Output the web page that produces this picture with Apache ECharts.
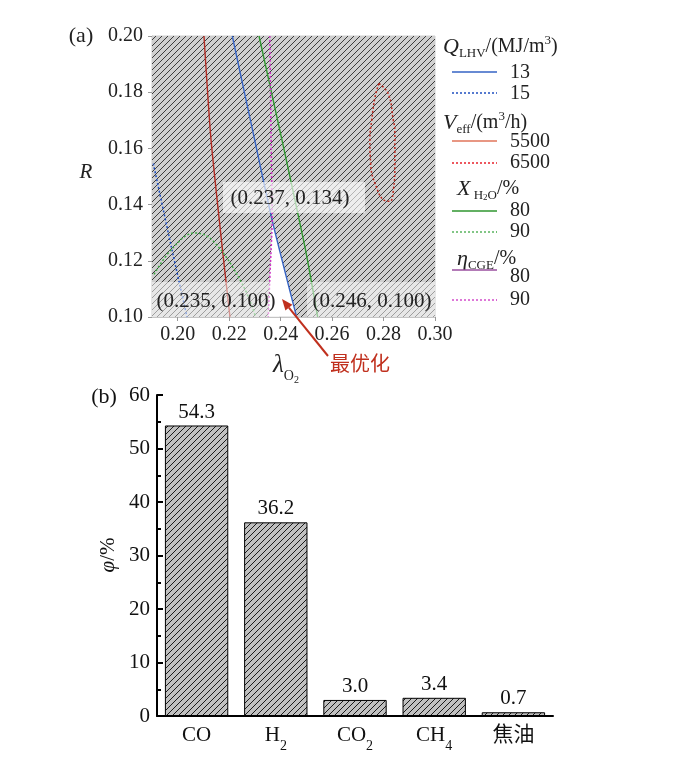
<!DOCTYPE html>
<html><head><meta charset="utf-8">
<script src="https://cdn.jsdelivr.net/npm/echarts@6/dist/echarts.min.js"></script>
<style>html,body{margin:0;padding:0;background:#fff}#c{width:674px;height:759px}</style>
</head><body><div id="c"></div>
<script>
// ---------- Panel (a) data (λO2, R) ----------
const aXTicks = [0.20, 0.22, 0.24, 0.26, 0.28, 0.30];
const qlhv13 = [[0.2212,0.20],[0.2298,0.1635],[0.2368,0.134],[0.2462,0.10]];
const qlhv15 = [[0.1905,0.1546],[0.1975,0.125],[0.2036,0.10]];
const veff5500 = [[0.2102,0.20],[0.2129,0.1635],[0.2173,0.1247],[0.2203,0.10]];
const veff6500 = [[0.2782,0.1831],[0.2818,0.1795],[0.2838,0.1700],[0.2844,0.1664],[0.2844,0.1546],[0.2838,0.1450],[0.2825,0.1412],[0.2806,0.1414],[0.2767,0.1475],[0.2750,0.1545],[0.2747,0.1636],[0.2754,0.1700],[0.2767,0.1783],[0.2782,0.1831]];
const xh2o80 = [[0.2316,0.20],[0.2404,0.1635],[0.2495,0.1247],[0.2544,0.10]];
const xh2o90 = [[0.1908,0.1152],[0.1983,0.1248],[0.2067,0.1299],[0.2137,0.1271],[0.2249,0.1121],[0.2303,0.10]];
const cge90 = [[0.2358,0.20],[0.2362,0.17],[0.2367,0.134],[0.2360,0.118],[0.2352,0.10]];
const optimumTop = [0.237, 0.134];
// ---------- Panel (b) data ----------
const bCats = ['CO', 'H2', 'CO2', 'CH4', '焦油'];
const bVals = [54.3, 36.2, 3.0, 3.4, 0.7];

const SERIF = "'Liberation Serif','Times New Roman',serif";
const SERIF_CJK = "'Liberation Serif','Noto Sans CJK SC',serif";

function hatch(bg, line, size, lw) {
  const c = document.createElement('canvas');
  c.width = size; c.height = size;
  const g = c.getContext('2d');
  g.fillStyle = bg; g.fillRect(0, 0, size, size);
  g.strokeStyle = line; g.lineWidth = lw;
  g.beginPath();
  g.moveTo(0, size); g.lineTo(size, 0);
  g.moveTo(-1, 1); g.lineTo(1, -1);
  g.moveTo(size - 1, size + 1); g.lineTo(size + 1, size - 1);
  g.stroke();
  return { image: c, repeat: 'repeat' };
}
const hatchA = hatch('#cfcfcf', '#3c3c3c', 6, 1);
const hatchB = hatch('#c0c0c0', '#1a1a1a', 6, 1);

// infeasible (hatched) region = plot minus optimum wedge
const wedgeLeft = cge90.filter(p => p[1] <= 0.134).sort((a, b) => a[1] - b[1]);
const wedgeRight = qlhv13.filter(p => p[1] <= 0.134).sort((a, b) => b[1] - a[1]);
const hatchPoly = [[0.19, 0.10]].concat(wedgeLeft, wedgeRight, [[0.30, 0.10], [0.30, 0.20], [0.19, 0.20]]);

const C = {
  blue: '#3563c4', blueD: '#1f4fc0',
  red: '#b02a22', redL: '#e0755a', redD: '#b8281e', redLeg: '#e8202a',
  green: '#2f962f', greenD: '#3fa845',
  purple: '#9a4f9f', magenta: '#cc30c4'
};
function lineSeries(name, data, color, dotted, smooth) {
  return {
    name, type: 'line', xAxisIndex: 0, yAxisIndex: 0, data, symbol: 'none',
    smooth: smooth || 0, z: 3,
    lineStyle: { color, width: dotted ? 1.5 : 1.4, type: dotted ? [2, 2] : 'solid' }
  };
}

const chart = echarts.init(document.getElementById('c'), null, { renderer: 'canvas' });
const lbl = { fontFamily: SERIF, fontSize: 20, color: '#222' };

// legend helpers
const LX1 = 452, LX2 = 497, LT = 510;
const legendEls = [];
function legLine(y, color, dotted) {
  legendEls.push({ type: 'line', shape: { x1: LX1, y1: y, x2: LX2, y2: y }, style: { stroke: color, lineWidth: 1.3, lineDash: dotted ? [2, 2] : null }, z: 100 });
}
function legText(x, y, text, rich) {
  legendEls.push({ type: 'text', x, y, z: 100, style: { text, rich: rich || {}, font: "20px " + SERIF, fill: '#222', textAlign: 'left', textVerticalAlign: 'middle' } });
}
const richHdr = {
  i: { fontFamily: SERIF, fontStyle: 'italic', fontSize: 22, lineHeight: 26, fill: '#222' },
  n: { fontFamily: SERIF, fontSize: 20, lineHeight: 26, fill: '#222' },
  s: { fontFamily: SERIF, fontSize: 13, lineHeight: 4, verticalAlign: 'bottom', fill: '#222' },
  ss: { fontFamily: SERIF, fontSize: 9, lineHeight: 1, verticalAlign: 'bottom', fill: '#222' },
  p: { fontFamily: SERIF, fontSize: 13, lineHeight: 16, verticalAlign: 'top', fill: '#222' }
};
legText(443, 47, '{i|Q}{s|LHV}{n|/(MJ/m}{p|3}{n|)}', richHdr);
legLine(72, C.blue, false); legText(LT, 73, '13');
legLine(93, C.blueD, true); legText(LT, 94, '15');
legText(443, 123, '{i|V}{s|eff}{n|/(m}{p|3}{n|/h)}', richHdr);
legLine(141, C.redL, false); legText(LT, 142, '5500');
legLine(163, C.redLeg, true); legText(LT, 163, '6500');
legText(457, 189, '{i|X}{s| H}{ss|2}{s|O}{n|/%}', richHdr);
legLine(211, C.green, false); legText(LT, 211, '80');
legLine(232, C.greenD, true); legText(LT, 232, '90');
legText(457, 259, '{i|η}{s|CGE}{n|/%}', richHdr);
legLine(270, C.purple, false); legText(LT, 277, '80');
legLine(300, C.magenta, true); legText(LT, 300, '90');

// arrow geometry (annotation)
const tip = [282, 299], tail = [328, 356];
const dx = tip[0] - tail[0], dy = tip[1] - tail[1], L = Math.hypot(dx, dy);
const ux = dx / L, uy = dy / L, hl = 11, hw = 4.5;
const bx = tip[0] - ux * hl, by = tip[1] - uy * hl;
const head = [tip, [bx - uy * hw, by + ux * hw], [bx + uy * hw, by - ux * hw]];

const annot = [
  { type: 'rect', shape: { x: 223, y: 182, width: 142, height: 31 }, style: { fill: 'rgba(255,255,255,0.62)' }, z: 50 },
  { type: 'rect', shape: { x: 152, y: 282, width: 127, height: 35 }, style: { fill: 'rgba(255,255,255,0.5)' }, z: 50 },
  { type: 'rect', shape: { x: 307, y: 282, width: 128, height: 35 }, style: { fill: 'rgba(255,255,255,0.5)' }, z: 50 },
  { type: 'text', x: 290, y: 198, z: 60, style: { text: '(0.237, 0.134)', font: "21px " + SERIF, fill: '#222', textAlign: 'center', textVerticalAlign: 'middle' } },
  { type: 'text', x: 216, y: 301, z: 60, style: { text: '(0.235, 0.100)', font: "21px " + SERIF, fill: '#222', textAlign: 'center', textVerticalAlign: 'middle' } },
  { type: 'text', x: 372, y: 301, z: 60, style: { text: '(0.246, 0.100)', font: "21px " + SERIF, fill: '#222', textAlign: 'center', textVerticalAlign: 'middle' } },
  { type: 'line', shape: { x1: tail[0], y1: tail[1], x2: bx, y2: by }, style: { stroke: '#c0301e', lineWidth: 2 }, z: 60 },
  { type: 'polygon', shape: { points: head }, style: { fill: '#c0301e' }, z: 60 },
  { type: 'text', x: 330, y: 363, z: 60, style: { text: '最优化', font: "20px 'Noto Sans CJK SC',sans-serif", fill: '#c0301e', textAlign: 'left', textVerticalAlign: 'middle' } },
  { type: 'text', x: 81, y: 36, z: 60, style: { text: '(a)', font: "22px " + SERIF, fill: '#222', textAlign: 'center', textVerticalAlign: 'middle' } },
  { type: 'text', x: 104, y: 397, z: 60, style: { text: '(b)', font: "22px " + SERIF, fill: '#111', textAlign: 'center', textVerticalAlign: 'middle' } },
  { type: 'text', x: 86, y: 172, z: 60, style: { text: 'R', font: "italic 21px " + SERIF, fill: '#222', textAlign: 'center', textVerticalAlign: 'middle' } },
  { type: 'text', x: 273, y: 353, z: 60, style: { text: '{l|λ}{o|O}{t|2}', rich: {
      l: { fontFamily: SERIF, fontStyle: 'italic', fontSize: 25, lineHeight: 26, verticalAlign: 'top', fill: '#222' },
      o: { fontFamily: SERIF, fontSize: 14, padding: [16, 0, 0, 0], verticalAlign: 'top', fill: '#222' },
      t: { fontFamily: SERIF, fontSize: 10, padding: [22, 0, 0, 0], verticalAlign: 'top', fill: '#222' } },
      textAlign: 'left', textVerticalAlign: 'top' } },
  { type: 'text', x: 108, y: 555, rotation: Math.PI / 2, z: 60, style: { text: '{i|φ}{n|/%}', rich: {
      i: { fontFamily: SERIF, fontStyle: 'italic', fontSize: 21, fill: '#111' },
      n: { fontFamily: SERIF, fontSize: 21, fill: '#111' } },
      textAlign: 'center', textVerticalAlign: 'middle' } }
];

const catFmt = { CO: '{m|CO}', H2: '{m|H}{s|2}', CO2: '{m|CO}{s|2}', CH4: '{m|CH}{s|4}', '焦油': '{m|焦油}' };

const option = {
  animation: false,
  backgroundColor: '#fff',
  grid: [
    { left: 152, top: 36, width: 283, height: 281, show: true, borderColor: '#cfcfcf', borderWidth: 1, backgroundColor: 'transparent' },
    { left: 157, top: 395, width: 396, height: 321 }
  ],
  xAxis: [
    { gridIndex: 0, type: 'value', min: 0.19, max: 0.30,
      axisLine: { show: true, lineStyle: { color: '#c4c4c4', width: 1 } },
      axisTick: { show: true, customValues: aXTicks, length: 4, lineStyle: { color: '#999' } },
      axisLabel: Object.assign({ customValues: aXTicks, formatter: v => v.toFixed(2), margin: 8 }, lbl),
      splitLine: { show: false } },
    { gridIndex: 1, type: 'category', data: bCats,
      axisLine: { lineStyle: { color: '#000', width: 2 } },
      axisTick: { inside: true, alignWithLabel: true, interval: 0, length: 7, lineStyle: { color: '#000', width: 2 } },
      axisLabel: { interval: 0, color: '#111', margin: 9,
        formatter: v => catFmt[v] || v,
        rich: {
          m: { fontFamily: SERIF_CJK, fontSize: 21, lineHeight: 22, verticalAlign: 'top', color: '#111' },
          s: { fontFamily: SERIF, fontSize: 14, padding: [14, 0, 0, 0], verticalAlign: 'top', color: '#111' }
        } } }
  ],
  yAxis: [
    { gridIndex: 0, type: 'value', min: 0.10, max: 0.20, interval: 0.02,
      axisLine: { show: true, lineStyle: { color: '#c4c4c4', width: 1 } },
      axisTick: { show: true, length: 4, lineStyle: { color: '#999' } },
      axisLabel: Object.assign({ formatter: v => v.toFixed(2), margin: 9 }, lbl),
      splitLine: { show: false } },
    { gridIndex: 1, type: 'value', min: 0, max: 60, interval: 10,
      axisLine: { show: true, lineStyle: { color: '#000', width: 2 } },
      axisTick: { show: true, inside: true, length: 6, lineStyle: { color: '#000', width: 2 } },
      minorTick: { show: true, splitNumber: 2, length: 4, lineStyle: { color: '#000', width: 2 } },
      axisLabel: { fontFamily: SERIF, fontSize: 21, color: '#111', margin: 7 },
      splitLine: { show: false } }
  ],
  graphic: { elements: legendEls.concat(annot) },
  series: [
    { type: 'custom', xAxisIndex: 0, yAxisIndex: 0, z: 1, silent: true,
      data: [optimumTop],
      renderItem: (params, api) => ({
        type: 'polygon',
        shape: { points: hatchPoly.map(p => api.coord(p)) },
        style: { fill: hatchA, stroke: null }
      }) },
    lineSeries('Q13', qlhv13, C.blue, false, 0.2),
    lineSeries('Q15', qlhv15, C.blueD, true, 0.2),
    lineSeries('V5500', veff5500, C.red, false, 0.2),
    lineSeries('V6500', veff6500, C.redD, true, 0.45),
    lineSeries('X80', xh2o80, C.green, false, 0.2),
    lineSeries('X90', xh2o90, C.greenD, true, 0.4),
    lineSeries('E90', cge90, C.magenta, true, 0.2),
    { type: 'bar', xAxisIndex: 1, yAxisIndex: 1, data: bVals, barWidth: '80%',
      itemStyle: { color: hatchB, borderColor: '#000', borderWidth: 1 },
      label: { show: true, position: 'top', distance: 3, fontFamily: SERIF, fontSize: 21, color: '#111',
        formatter: p => p.value.toFixed(1) } }
  ]
};
chart.setOption(option);
</script></body></html>
